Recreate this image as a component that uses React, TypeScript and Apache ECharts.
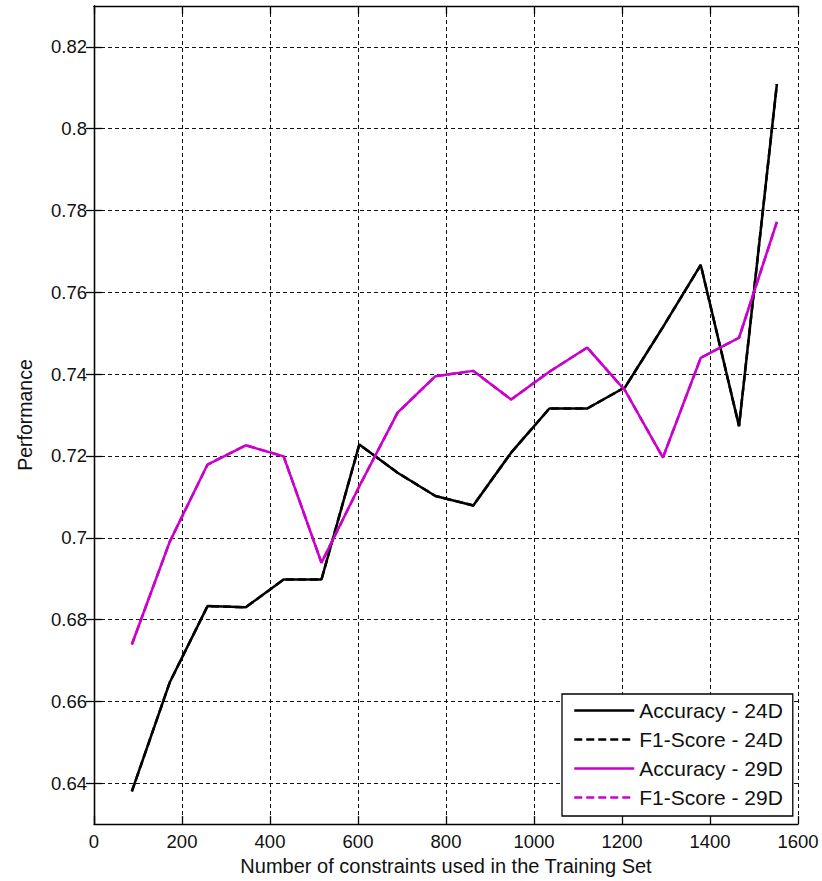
import React, { useEffect, useRef } from "react";
import * as echarts from "echarts";

const xValues = [86, 172, 258, 345, 431, 517, 603, 690, 776, 862, 948, 1035, 1121, 1207, 1293, 1379, 1466, 1552];
const accuracy24 = [0.638, 0.6646, 0.6833, 0.683, 0.6898, 0.6898, 0.7228, 0.7159, 0.7102, 0.7079, 0.7208, 0.7316, 0.7316, 0.7368, 0.7515, 0.7667, 0.7273, 0.8109];
const f1Score24 = [0.638, 0.6646, 0.6833, 0.683, 0.6898, 0.6898, 0.7228, 0.7159, 0.7102, 0.7079, 0.7208, 0.7316, 0.7316, 0.7368, 0.7515, 0.7667, 0.7273, 0.8109];
const accuracy29 = [0.6739, 0.699, 0.7179, 0.7226, 0.7199, 0.6939, 0.7126, 0.7306, 0.7395, 0.7408, 0.7338, 0.7406, 0.7465, 0.736, 0.7196, 0.744, 0.7489, 0.7772];
const f1Score29 = [0.6739, 0.699, 0.7179, 0.7226, 0.7199, 0.6939, 0.7126, 0.7306, 0.7395, 0.7408, 0.7338, 0.7406, 0.7465, 0.736, 0.7196, 0.744, 0.7489, 0.7772];
const yTickValues = [0.64, 0.66, 0.68, 0.7, 0.72, 0.74, 0.76, 0.78, 0.8, 0.82];
const seriesNames = ["Accuracy - 24D", "F1-Score - 24D", "Accuracy - 29D", "F1-Score - 29D"];

const FONT = "Arial, 'Liberation Sans', Helvetica, sans-serif";
const TEXT_COLOR = "#111";
const BLACK = "#000000";
const MAGENTA = "#CC00CC";

function pairs(ys: number[]) {
  return xValues.map((x, i) => [x, ys[i]]);
}

export default function App() {
  const ref = useRef<HTMLDivElement>(null);

  useEffect(() => {
    if (!ref.current) return;
    const chart = echarts.init(ref.current, undefined, { renderer: "svg" });
    const gridLine = { show: true, lineStyle: { color: "#111", type: [4, 3], width: 1 } };
    const axisLine = { show: true, lineStyle: { color: "#000", width: 1.3 } };
    const tick = { show: true, inside: true, length: 8, lineStyle: { color: "#000", width: 1.3 } };
    const label = { color: TEXT_COLOR, fontSize: 18.5, fontFamily: FONT };

    const lineSeries = (name: string, ys: number[], color: string, type: any) => ({
      name,
      type: "line",
      data: pairs(ys),
      showSymbol: false,
      symbol: "none",
      lineStyle: { color, width: 2.5, type },
      itemStyle: { color },
      z: 3,
    });

    chart.setOption({
      animation: false,
      backgroundColor: "#ffffff",
      grid: { left: 94, top: 6, right: 24, bottom: 56, containLabel: false },
      legend: {
        left: 562,
        top: 694,
        orient: "vertical",
        data: seriesNames,
        backgroundColor: "#ffffff",
        borderColor: "#000",
        borderWidth: 1.3,
        borderRadius: 0,
        padding: [6, 10, 8, 11],
        itemGap: 8,
        itemWidth: 60,
        itemHeight: 14,
        itemStyle: { color: "transparent", borderWidth: 0, opacity: 0 },
        lineStyle: { width: 2.5 },
        textStyle: { color: TEXT_COLOR, fontSize: 21, fontFamily: FONT },
      },
      xAxis: [
        {
          type: "value",
          min: 0,
          max: 1600,
          interval: 200,
          position: "bottom",
          name: "Number of constraints used in the Training Set",
          nameLocation: "middle",
          nameGap: 31,
          nameTextStyle: { color: TEXT_COLOR, fontSize: 20, fontFamily: FONT },
          axisLine,
          axisTick: tick,
          axisLabel: { ...label, margin: 8, formatter: (v: number) => String(v) },
          splitLine: gridLine,
        },
        {
          type: "value",
          min: 0,
          max: 1600,
          interval: 200,
          position: "top",
          axisLine,
          axisTick: tick,
          axisLabel: { show: false },
          splitLine: { show: false },
        },
      ],
      yAxis: [
        {
          type: "value",
          min: 0.63,
          max: 0.83,
          position: "left",
          name: "Performance",
          nameLocation: "middle",
          nameGap: 59,
          nameTextStyle: { color: TEXT_COLOR, fontSize: 19.5, fontFamily: FONT },
          axisLine,
          axisTick: { ...tick, customValues: yTickValues },
          axisLabel: { ...label, margin: 7, customValues: yTickValues, formatter: (v: number) => String(Math.round(v * 100) / 100) },
          splitLine: gridLine,
        },
        {
          type: "value",
          min: 0.63,
          max: 0.83,
          position: "right",
          axisLine,
          axisTick: { ...tick, customValues: yTickValues },
          axisLabel: { show: false, customValues: yTickValues },
          splitLine: { show: false },
        },
      ],
      series: [
        lineSeries(seriesNames[0], accuracy24, BLACK, "solid"),
        lineSeries(seriesNames[1], f1Score24, BLACK, [8, 4]),
        lineSeries(seriesNames[2], accuracy29, MAGENTA, "solid"),
        lineSeries(seriesNames[3], f1Score29, MAGENTA, [8, 4]),
      ],
    });
    return () => chart.dispose();
  }, []);

  return (
    <div
      ref={ref}
      style={{ position: "fixed", left: 0, top: 0, width: 822, height: 881, background: "#fff" }}
    />
  );
}
